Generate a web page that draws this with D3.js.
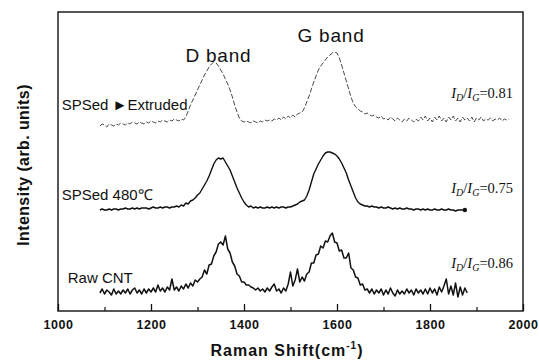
<!DOCTYPE html>
<html>
<head>
<meta charset="utf-8">
<script src="https://cdn.jsdelivr.net/npm/d3@7"></script>
<style>
html, body { margin: 0; padding: 0; background: #fff; }
svg { display: block; }
</style>
</head>
<body>
<div id="chart"></div>
<script>
const shiftStart = 1090;
const shiftStep = 5;

const rawCnt = [
  17,21,16,20,18,15,21,16,19,16,
  20,17,21,16,20,22,17,20,16,21,
  17,21,18,22,18,25,19,22,18,23,
  20,31,20,23,19,24,21,26,22,27,
  24,30,28,31,33,40,36,45,46,54,
  58,66,68,65,74,61,57,48,44,36,
  34,28,28,25,25,23,22,20,22,19,
  21,18,22,19,23,26,19,21,17,22,
  19,26,38,24,30,41,28,33,29,36,
  38,47,47,55,56,64,62,69,68,74,
  77,68,67,59,60,52,52,57,42,40,
  33,32,25,26,20,21,17,21,16,20,
  17,21,15,20,16,22,17,14,20,16,
  19,16,21,17,20,15,21,17,20,16,
  21,16,22,17,21,15,23,18,24,31,
  16,24,15,27,13,23,15,22,17
];

const sps480 = [
  100,101,100,100,101,100,101,101,100,101,
  101,102,101,101,102,101,102,101,102,102,
  102,101,102,103,102,102,103,102,103,103,
  102,103,103,104,103,105,104,107,106,109,
  110,112,115,117,121,125,129,134,140,146,
  150,152,151,152,148,144,140,134,128,122,
  117,112,108,105,103,104,102,103,102,103,
  102,102,103,102,103,102,103,102,103,103,
  102,103,103,104,105,106,108,109,110,114,
  120,128,136,141,146,150,154,157,158,158,
  157,156,154,151,147,142,137,130,124,118,
  112,108,106,105,104,104,103,104,103,103,
  102,103,102,102,103,102,101,102,101,102,
  101,101,102,101,101,100,101,101,100,101,
  100,101,100,100,101,100,100,101,100,100,
  101,100,100,99,100,100,100,100
];

const spsExtruded = [
  184,186,185,183,186,185,184,186,185,187,
  186,185,187,186,188,187,186,188,187,186,
  188,187,189,188,187,189,188,190,189,188,
  190,189,191,190,189,191,190,193,199,205,
  210,215,220,225,230,235,239,243,246,248,
  247,244,240,236,231,226,220,213,205,198,
  192,189,188,189,188,187,189,188,187,189,
  188,190,189,190,189,191,190,192,190,193,
  191,194,192,195,193,196,197,198,202,208,
  214,221,228,234,240,244,247,250,253,255,
  257,258,257,252,245,237,229,221,213,207,
  203,201,199,198,196,197,195,194,195,193,
  192,194,191,192,190,193,191,189,192,190,
  188,191,189,192,190,188,191,189,193,190,
  194,189,192,188,193,190,194,189,192,188,
  193,190,194,189,192,188,193,190,192,189,
  193,188,192,190,193,189,191,190,192,189,
  191,190,192,189,191,190,191
];

const sampleNames = ['SPSed \u25BAExtruded', 'SPSed 480\u2103', 'Raw CNT'];
const ratioValues = ['0.81', '0.75', '0.86'];
const bandNames = ['D band', 'G band'];
const bandCenters = [1345, 1587];
const xTicks = [1000, 1200, 1400, 1600, 1800, 2000];
const xMinorTicks = [1100, 1300, 1500, 1700, 1900];

const width = 539, height = 360;
const frameLeft = 58, frameRight = 523, frameTop = 12, frameBottom = 311;

const svg = d3.select('#chart')
  .append('svg')
  .attr('width', width)
  .attr('height', height)
  .style('background-color', '#fff');

const x = d3.scaleLinear().domain([1000, 2000]).range([frameLeft, frameRight]);
const y = d3.scaleLinear().domain([0, 300]).range([310, 10]);

const toPoints = (vals) => vals.map((v, i) => [shiftStart + i * shiftStep, v]);

const series = [
  { name: sampleNames[0], pts: toPoints(spsExtruded), color: '#4a4a4a', w: 1, dash: '5,2', labelX: 1008, labelY: 200, ratioY: 212 },
  { name: sampleNames[1], pts: toPoints(sps480), color: '#111', w: 1.4, dash: null, labelX: 1008, labelY: 110, ratioY: 117 },
  { name: sampleNames[2], pts: toPoints(rawCnt), color: '#111', w: 1.5, dash: null, labelX: 1021, labelY: 27, ratioY: 42 }
];

const line = d3.line().x(d => x(d[0])).y(d => y(d[1]));

svg.selectAll('path.spec')
  .data(series)
  .join('path')
  .attr('class', 'spec')
  .attr('d', d => line(d.pts))
  .attr('fill', 'none')
  .attr('stroke', d => d.color)
  .attr('stroke-width', d => d.w)
  .attr('stroke-dasharray', d => d.dash)
  .attr('stroke-linejoin', 'round');

// end marker on the 480C trace
const lastPt = series[1].pts[series[1].pts.length - 1];
svg.append('circle')
  .attr('cx', x(lastPt[0]))
  .attr('cy', y(lastPt[1]))
  .attr('r', 2.2)
  .attr('fill', '#111');

// frame
svg.append('rect')
  .attr('x', frameLeft).attr('y', frameTop)
  .attr('width', frameRight - frameLeft).attr('height', frameBottom - frameTop)
  .attr('fill', 'none')
  .attr('stroke', '#111')
  .attr('stroke-width', 1.4);

const xAxis = svg.append('g')
  .attr('transform', `translate(0,${frameBottom})`)
  .call(d3.axisBottom(x).tickValues(xTicks).tickSizeInner(-7).tickSizeOuter(0).tickPadding(9).tickFormat(d3.format('d')));
xAxis.select('.domain').remove();
xAxis.selectAll('line').attr('stroke', '#111').attr('stroke-width', 1.3);
xAxis.selectAll('text')
  .attr('fill', '#111')
  .style('font-family', '"Liberation Sans", Arial, sans-serif')
  .style('font-weight', 'bold')
  .style('font-size', '12.5px')
  .style('letter-spacing', '0.6px');

const xMinor = svg.append('g')
  .attr('transform', `translate(0,${frameBottom})`)
  .call(d3.axisBottom(x).tickValues(xMinorTicks).tickSizeInner(-4).tickSizeOuter(0).tickFormat(''));
xMinor.select('.domain').remove();
xMinor.selectAll('line').attr('stroke', '#111').attr('stroke-width', 1.2);

const sans = '"Liberation Sans", Arial, sans-serif';
const serif = '"Liberation Serif", "Times New Roman", serif';

// axis titles
const xt = svg.append('text')
  .attr('x', 287).attr('y', 356)
  .attr('text-anchor', 'middle')
  .style('font-family', sans).style('font-weight', 'bold')
  .style('font-size', '16px').style('letter-spacing', '1px')
  .attr('fill', '#111');
xt.append('tspan').text('Raman Shift(cm');
xt.append('tspan').attr('dy', -7).style('font-size', '10px').text('-1');
xt.append('tspan').attr('dy', 7).text(')');

svg.append('text')
  .attr('transform', 'translate(29,165) rotate(-90)')
  .attr('text-anchor', 'middle')
  .style('font-family', sans).style('font-weight', 'bold')
  .style('font-size', '16px').style('letter-spacing', '0.4px')
  .attr('fill', '#111')
  .text('Intensity (arb. units)');

// band labels
svg.selectAll('text.band')
  .data(bandNames)
  .join('text')
  .attr('class', 'band')
  .attr('x', (d, i) => x(bandCenters[i]))
  .attr('y', (d, i) => i === 0 ? 62 : 42)
  .attr('text-anchor', 'middle')
  .style('font-family', sans).style('font-size', '19px').style('letter-spacing', '0.8px')
  .attr('fill', '#111')
  .text(d => d);

// sample labels
svg.selectAll('text.sample')
  .data(series)
  .join('text')
  .attr('class', 'sample')
  .attr('x', d => x(d.labelX))
  .attr('y', d => y(d.labelY))
  .style('font-family', sans).style('font-size', '15px')
  .attr('fill', '#111')
  .text(d => d.name);

// I_D/I_G ratio labels
series.forEach((s, i) => {
  const t = svg.append('text')
    .attr('x', 513)
    .attr('y', y(s.ratioY))
    .attr('text-anchor', 'end')
    .style('font-family', serif).style('font-size', '14.5px')
    .attr('fill', '#111');
  t.append('tspan').style('font-style', 'italic').text('I');
  t.append('tspan').style('font-style', 'italic').style('font-size', '10px').attr('dy', 3).text('D');
  t.append('tspan').attr('dy', -3).text('/');
  t.append('tspan').style('font-style', 'italic').text('I');
  t.append('tspan').style('font-style', 'italic').style('font-size', '10px').attr('dy', 3).text('G');
  t.append('tspan').attr('dy', -3).text('=' + ratioValues[i]);
});
</script>
</body>
</html>
